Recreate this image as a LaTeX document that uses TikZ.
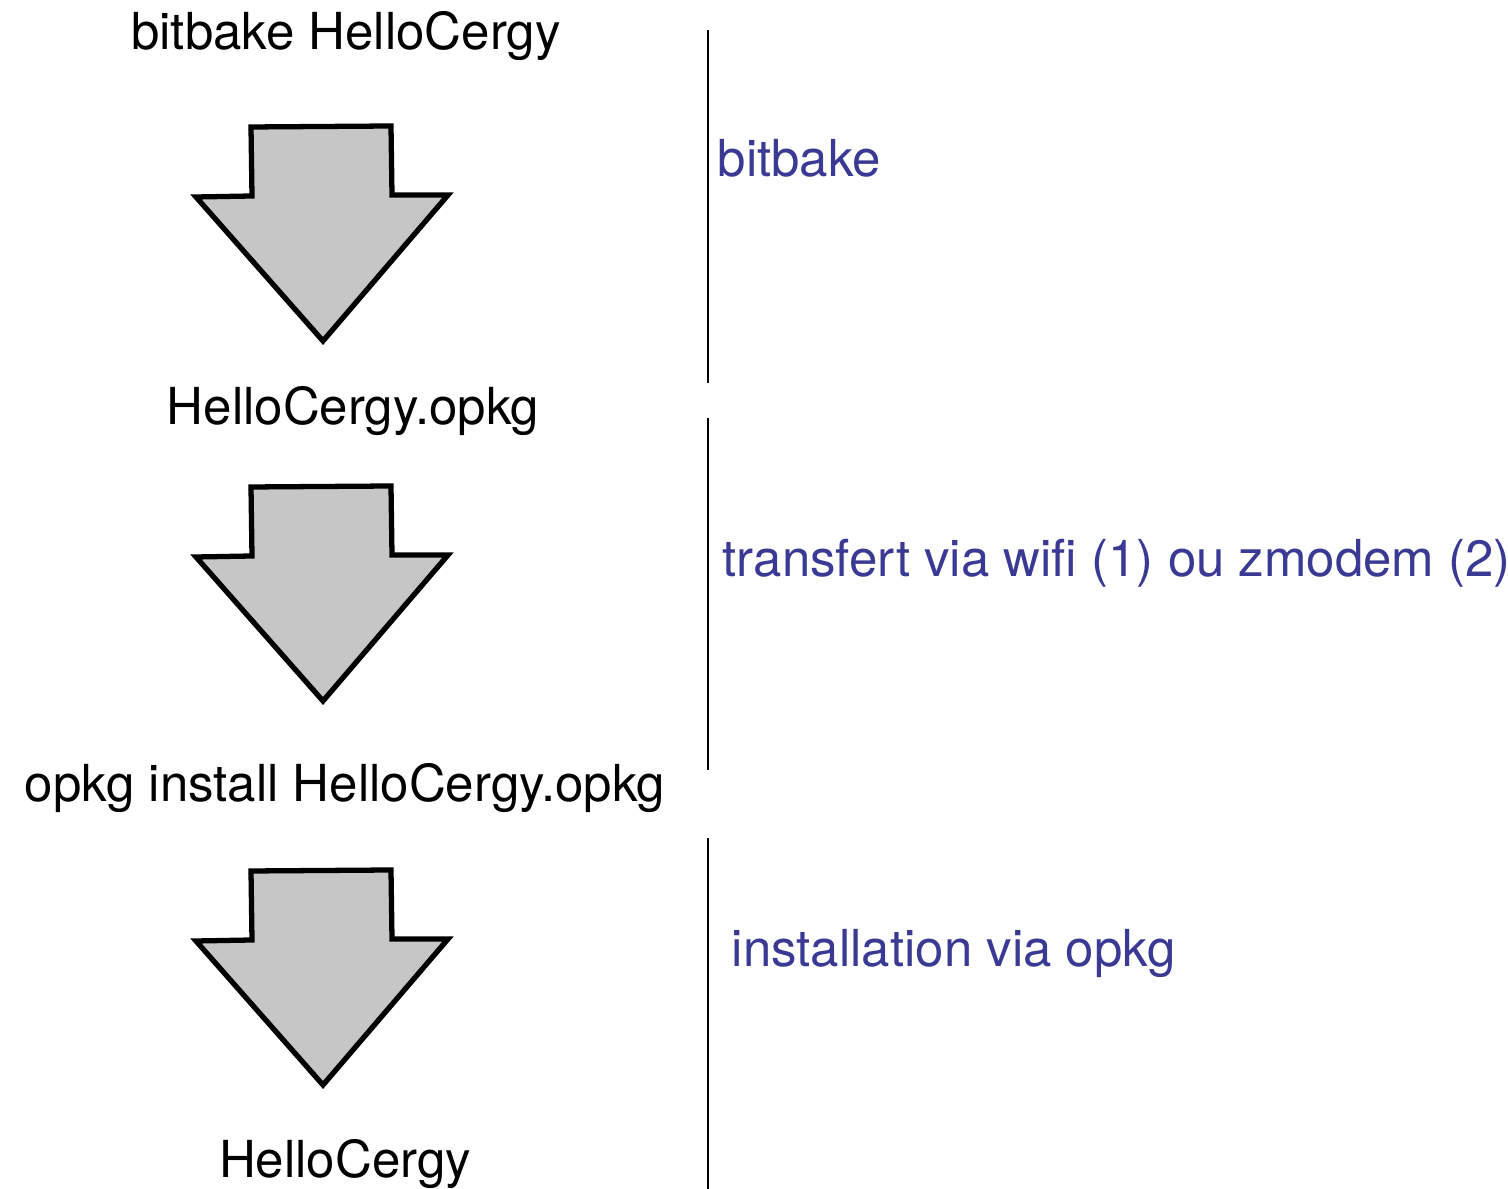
\documentclass[tikz,border=0pt]{standalone}
\usepackage{fontspec}
\setmainfont{TeX Gyre Heros}
\usepackage{tikz}
\usetikzlibrary{positioning,calc}
\definecolor{stepblue}{RGB}{58,58,148}
\definecolor{arrowgray}{RGB}{198,198,198}

% one fat down arrow, top of shaft at y offset #1 (pixels)
\newcommand{\fatarrow}[1]{%
  \draw[fatarrow] (251,127+#1) -- (391,126+#1) -- (392,195+#1) -- (448,195+#1)
    -- (323,341+#1) -- (196,197+#1) -- (252,196+#1) -- cycle;}

\begin{document}
\begin{tikzpicture}[x=0.01cm,y=-0.01cm,
  fatarrow/.style={draw=black,fill=arrowgray,line width=1.5pt,line join=miter},
  filename/.style={font=\fontsize{14.5}{17}\selectfont,inner sep=0pt,anchor=base},
  stepname/.style={font=\fontsize{14.5}{17}\selectfont,inner sep=0pt,anchor=base west,text=stepblue},
  sep/.style={line width=0.6pt}
]
\useasboundingbox (0,0) rectangle (1508,1189);

\node[filename] (cmd) at (346,50) {bitbake HelloCergy};
\node[filename] (pkg) at (353,425) {HelloCergy.opkg};
\node[filename] (inst) at (345,802) {opkg install HelloCergy.opkg};
\node[filename] (prog) at (345,1178) {HelloCergy};

\fatarrow{0}
\fatarrow{360}
\fatarrow{744}

\coordinate (s1top) at (708,30);
\coordinate (s1bot) at (708,383);
\coordinate (s2top) at (708,418);
\coordinate (s2bot) at (708,770);
\coordinate (s3top) at (708,838);
\coordinate (s3bot) at (708,1189);
\draw[sep] (s1top) -- (s1bot);
\draw[sep] (s2top) -- (s2bot);
\draw[sep] (s3top) -- (s3bot);

\node[stepname] (bake) at (717,177) {bitbake};
\node[stepname] (xfer) at (722,577) {transfert via wifi (1) ou zmodem (2)};
\node[stepname] (install) at (731,967) {installation via opkg};
\end{tikzpicture}
\end{document}
